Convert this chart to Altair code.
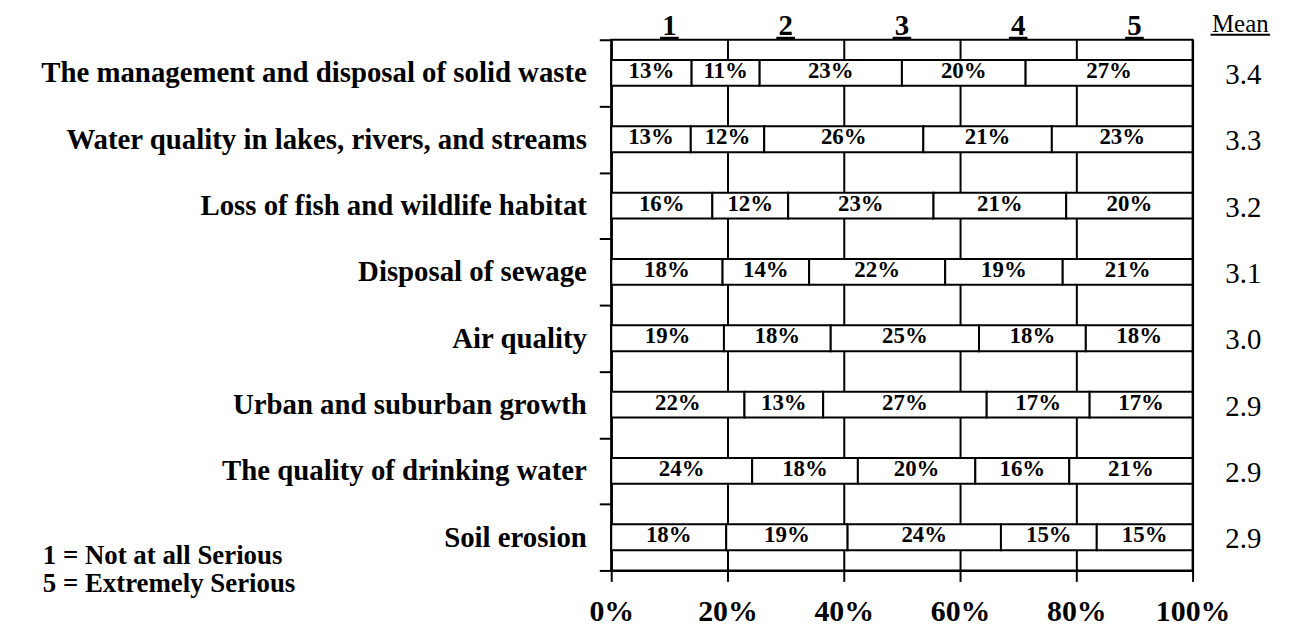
import altair as alt
import pandas as pd

categories = [
    "The management and disposal of solid waste",
    "Water quality in lakes, rivers, and streams",
    "Loss of fish and wildlife habitat",
    "Disposal of sewage",
    "Air quality",
    "Urban and suburban growth",
    "The quality of drinking water",
    "Soil erosion",
]
levels = [1, 2, 3, 4, 5]
pct_1 = [13, 13, 16, 18, 19, 22, 24, 18]
pct_2 = [11, 12, 12, 14, 18, 13, 18, 19]
pct_3 = [23, 26, 23, 22, 25, 27, 20, 24]
pct_4 = [20, 21, 21, 19, 18, 17, 16, 15]
pct_5 = [27, 23, 20, 21, 18, 17, 21, 15]
means = [3.4, 3.3, 3.2, 3.1, 3.0, 2.9, 2.9, 2.9]
x_ticks = [0, 0.2, 0.4, 0.6, 0.8, 1.0]
notes = ["1 = Not at all Serious", "5 = Extremely Serious"]
mean_title = "Mean"

FONT = "Liberation Serif"

series = [pct_1, pct_2, pct_3, pct_4, pct_5]
rows = []
for ci, cat in enumerate(categories):
    for li, lev in enumerate(levels):
        rows.append({"cat": cat, "level": lev, "pct": series[li][ci]})
df = pd.DataFrame(rows)
mean_df = pd.DataFrame({"cat": categories, "mean": means})
head_df = pd.DataFrame({"level": levels})
notes_df = pd.DataFrame({"note": notes, "i": list(range(len(notes)))})
title_df = pd.DataFrame({"t": [mean_title]})

xscale = alt.Scale(domain=[0, 1], nice=False, zero=False)
xaxis = alt.Axis(
    values=x_ticks, format=".0%", title=None, grid=True, gridColor="black",
    gridWidth=2, gridOpacity=1, domainColor="black", domainWidth=2,
    tickColor="black", tickWidth=2, tickSize=11, labelFont=FONT,
    labelFontSize=30, labelFontWeight="bold", labelColor="black",
    labelPadding=15, labelFlush=False, labelOverlap=False,
)
yscale = alt.Scale(domain=categories, paddingInner=0, paddingOuter=0)
yaxis = alt.Axis(
    title=None, tickBand="extent", tickColor="black", tickWidth=2, tickSize=12,
    domainColor="black", domainWidth=2, labelFont=FONT, labelFontSize=29,
    labelFontWeight="bold", labelColor="black", labelPadding=13,
    labelLimit=1000, grid=False,
)


def X(field):
    return alt.X(field, type="quantitative", scale=xscale, axis=xaxis)


def Y():
    return alt.Y("cat:N", scale=yscale, axis=yaxis, sort=categories)


base = alt.Chart(df).transform_stack(
    stack="pct", as_=["x0", "x1"], groupby=["cat"],
    sort=[alt.SortField("level", order="ascending")], offset="normalize",
).transform_calculate(
    mid="(datum.x0 + datum.x1) / 2", label="datum.pct + '%'"
)

bars = base.mark_bar(fill="white", stroke="black", strokeWidth=2, size=26).encode(
    y=Y(), x=X("x0"), x2="x1:Q"
)
seg_text = base.mark_text(
    font=FONT, fontSize=23, fontWeight="bold", color="black", baseline="middle", dy=-2
).encode(y=Y(), x=X("mid"), text="label:N")

mean_text = alt.Chart(mean_df).mark_text(
    font=FONT, fontSize=29, color="black", baseline="middle", dy=2
).encode(y=Y(), x=alt.value(636), text=alt.Text("mean:Q", format=".1f"))

head = alt.Chart(head_df).transform_calculate(
    hx="(datum.level - 0.5) / 5",
    hx0="(datum.level - 0.5) / 5 - 0.016",
    hx1="(datum.level - 0.5) / 5 + 0.016",
)
head_text = head.mark_text(
    font=FONT, fontSize=29, fontWeight="bold", color="black", baseline="alphabetic"
).encode(x=X("hx"), y=alt.value(-4.5), text="level:N")
head_line = head.mark_rule(color="black", strokeWidth=3).encode(
    x=X("hx0"), x2="hx1:Q", y=alt.value(-1.5)
)

mean_head = alt.Chart(title_df).mark_text(
    font=FONT, fontSize=25, color="black", baseline="alphabetic"
).encode(x=alt.value(633), y=alt.value(-8), text="t:N")
mean_line = alt.Chart(title_df).mark_rule(color="black", strokeWidth=2).encode(
    x=alt.value(603), x2=alt.value(663), y=alt.value(-5)
)

note_text = alt.Chart(notes_df).transform_calculate(
    ny="528 + 28 * datum.i"
).mark_text(
    font=FONT, fontSize=27, fontWeight="bold", color="black", align="left",
    baseline="alphabetic",
).encode(x=alt.value(-572), y=alt.Y("ny:Q", scale=None), text="note:N")

chart = alt.layer(
    bars, seg_text, mean_text, head_text, head_line, mean_head, mean_line, note_text
).properties(
    width=585, height=534,
    autosize=alt.AutoSizeParams(type="none"),
    padding={"left": 607, "top": 30, "right": 96, "bottom": 60},
    background="white",
).configure_view(stroke="black", strokeWidth=2)

chart.save("out.html", embed_options={"renderer": "svg", "actions": False})
